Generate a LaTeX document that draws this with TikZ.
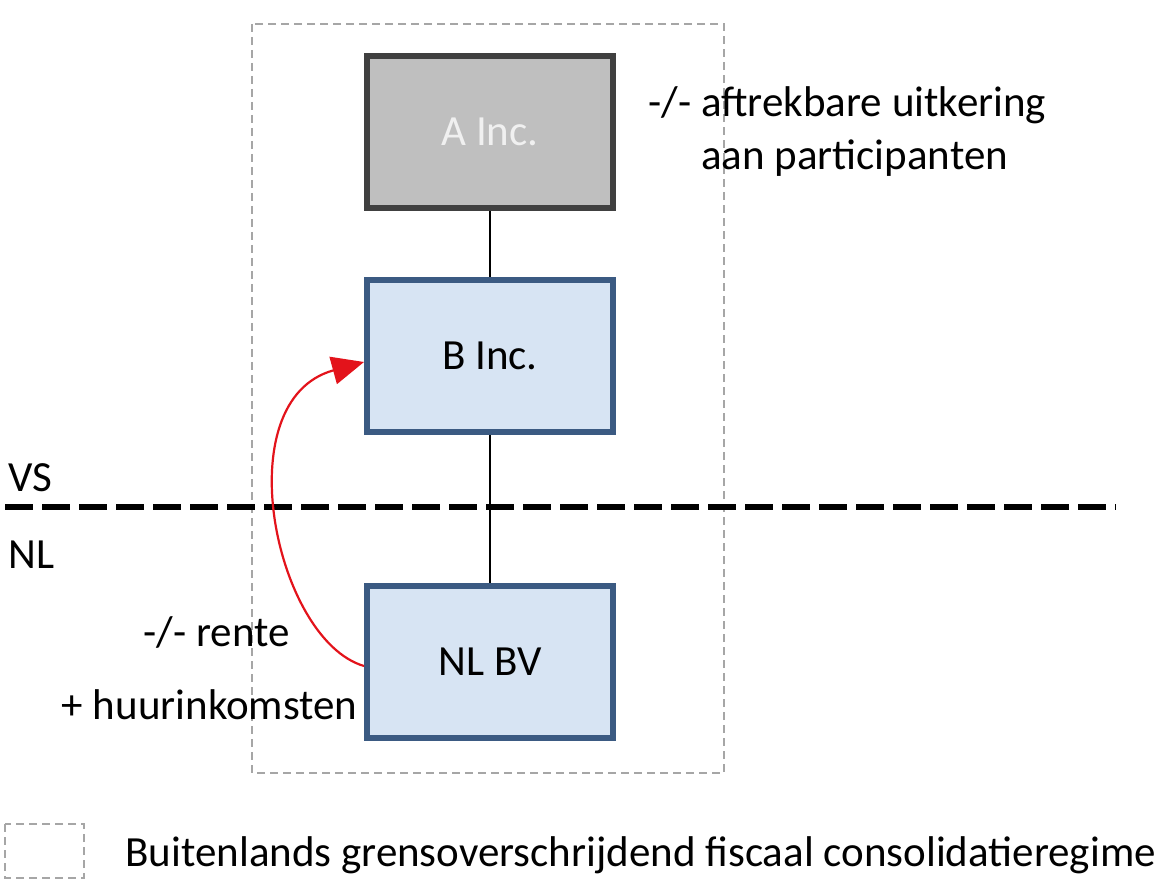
\documentclass[tikz,border=0pt]{standalone}
\usepackage{fontspec}
\setmainfont{Carlito}
\usetikzlibrary{arrows.meta}
\definecolor{boxgray}{HTML}{BFBFBF}
\definecolor{boxgrayline}{HTML}{404040}
\definecolor{boxblue}{HTML}{D7E4F3}
\definecolor{boxblueline}{HTML}{3B5A82}
\definecolor{regime}{HTML}{A6A6A6}
\definecolor{flowred}{HTML}{E3131B}
\tikzset{
  entity/.style={draw, line width=3pt, minimum width=123pt, minimum height=76pt, inner sep=0pt,
    font=\fontsize{21.5}{26}\selectfont},
  parent/.style={entity, fill=boxgray, draw=boxgrayline, text=white!94!black},
  sub/.style={entity, fill=boxblue, draw=boxblueline, text=black},
  regimeline/.style={draw=regime, line width=1.1pt, dash pattern=on 4pt off 2.5pt},
  border/.style={line width=2.6pt, dash pattern=on 14pt off 4.5pt},
  lbl/.style={font=\fontsize{21.5}{26.5}\selectfont, inner sep=0pt},
  link/.style={line width=1.3pt},
  flow/.style={draw=flowred, line width=1.1pt, -{Triangle[length=16pt,width=14pt]}}
}
\begin{document}
\begin{tikzpicture}[x=0.5pt,y=-0.5pt]
\useasboundingbox (0,0) rectangle (1176,892);
% consolidation regime area
\draw[regimeline] (252,24) rectangle (724,773);
% border line VS / NL
\coordinate (bl) at (5,507);
\coordinate (br) at (1116,507);
\draw[border] (bl) -- (br);
\node[lbl, anchor=west] (vs) at (8,478) {VS};
\node[lbl, anchor=west] (nl) at (8,555) {NL};
% entities
\node[parent] (a) at (490,132) {A Inc.};
\node[sub] (b) at (490,356) {B Inc.};
\node[sub] (nlbv) at (490,662) {NL BV};
\draw[link] (a) -- (b);
\draw[link] (b) -- (nlbv);
% flow
\draw[flow] ([yshift=-2pt]nlbv.west) .. controls (275,640) and (225,400) .. ([yshift=-3pt]b.west);
\node[lbl, anchor=east] (rente) at (290,632) {-/- rente};
\node[lbl, anchor=east] (huur) at (358,705) {+ huurinkomsten};
\node[lbl, anchor=north west, align=left] (uitk) at (648,86) {-/- aftrekbare uitkering\\\phantom{-/- }aan participanten};
% legend
\draw[regimeline] (5,824) rectangle (84,878);
\node[lbl, anchor=west] (leg) at (125,855) {Buitenlands grensoverschrijdend fiscaal consolidatieregime};
\end{tikzpicture}
\end{document}
